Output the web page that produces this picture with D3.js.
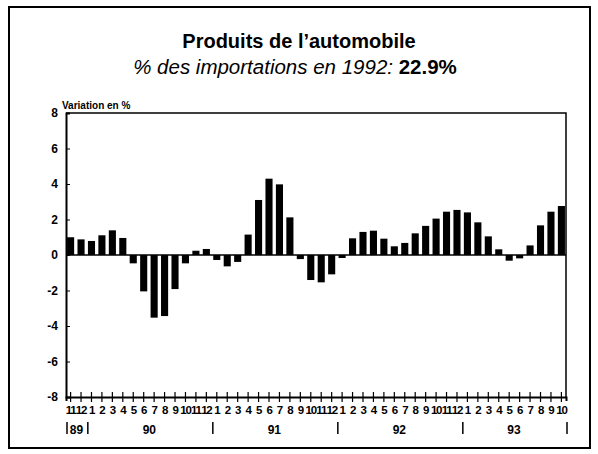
<!DOCTYPE html>
<html><head><meta charset="utf-8">
<script src="https://cdn.jsdelivr.net/npm/d3@7"></script>
<style>body{margin:0;background:#fff}svg{display:block}</style>
</head><body>
<svg id="c" width="598" height="454"></svg>
<script>
const months = ["11","12","1","2","3","4","5","6","7","8","9","10","11","12","1","2","3","4","5","6","7","8","9","10","11","12","1","2","3","4","5","6","7","8","9","10","11","12","1","2","3","4","5","6","7","8","9","10"];
const values = [1.0,0.88,0.79,1.11,1.39,0.96,-0.47,-2.05,-3.53,-3.44,-1.92,-0.47,0.24,0.34,-0.28,-0.64,-0.39,1.15,3.1,4.3,3.98,2.12,-0.23,-1.41,-1.54,-1.09,-0.17,0.94,1.30,1.37,0.92,0.49,0.68,1.22,1.64,2.05,2.44,2.54,2.40,1.84,1.05,0.32,-0.32,-0.19,0.54,1.67,2.44,2.76];
const yTicks = [8,6,4,2,0,-2,-4,-6,-8];
const years = ["89","90","91","92","93"];
const yearStart = [0,2,14,26,38];
const yearEnd = [2,14,26,38,48];

const svg = d3.select("#c");
const font = "'Liberation Sans', Arial, sans-serif";
const L=66,R=566,T=113,B=397;
const idx = d3.range(values.length);
const x = d3.scaleBand().domain(idx).range([L,R]).paddingInner(0.32).paddingOuter(0.1);
const xb = d3.scaleLinear().domain([0,values.length]).range([L,R]);
const y = d3.scaleLinear().domain([-8,8]).range([B,T]);

// frame
svg.append("rect").attr("x",9).attr("y",7).attr("width",581).attr("height",441)
  .attr("fill","none").attr("stroke","#000").attr("stroke-width",2);

// titles
svg.append("text").attr("x",299).attr("y",48).attr("text-anchor","middle")
  .attr("font-family",font).attr("font-weight","bold").attr("font-size",20)
  .text("Produits de l’automobile");
const st = svg.append("text").attr("x",295).attr("y",74).attr("text-anchor","middle")
  .attr("font-family",font).attr("font-size",20.5);
st.append("tspan").attr("font-style","italic").text("% des importations en 1992: ");
st.append("tspan").attr("font-weight","bold").text("22.9%");

svg.append("text").attr("x",62).attr("y",109).attr("font-family",font)
  .attr("font-weight","bold").attr("font-size",10).text("Variation en %");

// plot box
svg.append("path").attr("d",`M${L},${T}H${R}V${B}`).attr("fill","none")
  .attr("stroke","#000").attr("stroke-width",1.5);

// bars
svg.append("g").selectAll("rect").data(values).join("rect")
  .attr("x",(d,i)=>x(i)).attr("width",x.bandwidth())
  .attr("y",d=>y(Math.max(0,d))).attr("height",d=>Math.abs(y(d)-y(0)))
  .attr("fill","#000");

// zero line
svg.append("line").attr("x1",L).attr("x2",R).attr("y1",y(0)).attr("y2",y(0))
  .attr("stroke","#000").attr("stroke-width",1.5);

// y axis
const ya = svg.append("g").attr("transform",`translate(${L},0)`)
  .call(d3.axisLeft(y).tickValues(yTicks).tickSize(-4).tickPadding(8).tickFormat(d=>String(d)));
ya.select(".domain").attr("stroke-width",2);
ya.selectAll("text").attr("font-family",font).attr("font-weight","bold").attr("font-size",12).attr("fill","#000");

// x axis
const xa = svg.append("g").attr("transform",`translate(0,${B})`)
  .call(d3.axisBottom(x).tickSize(4).tickPadding(5).tickFormat(i=>months[i]));
xa.select(".domain").attr("stroke-width",2);
xa.selectAll(".tick line").attr("y1",-5).attr("y2",5).attr("stroke-width",1.2);
xa.selectAll("text").attr("font-family",font).attr("font-weight","bold").attr("font-size",11.5)
  .attr("letter-spacing",-1.2).attr("fill","#000");

// year labels & separators
const yg = svg.append("g");
const seps = [0,2,14,26,38,48];
yg.selectAll("line").data(seps).join("line")
  .attr("x1",d=>xb(d)+1).attr("x2",d=>xb(d)+1).attr("y1",422).attr("y2",434)
  .attr("stroke","#000").attr("stroke-width",1.5);
yg.selectAll("text").data(years).join("text")
  .attr("x",(d,i)=>(xb(yearStart[i])+xb(yearEnd[i]))/2).attr("y",434)
  .attr("text-anchor","middle").attr("font-family",font).attr("font-weight","bold")
  .attr("font-size",12).text(d=>d);
</script>
</body></html>
